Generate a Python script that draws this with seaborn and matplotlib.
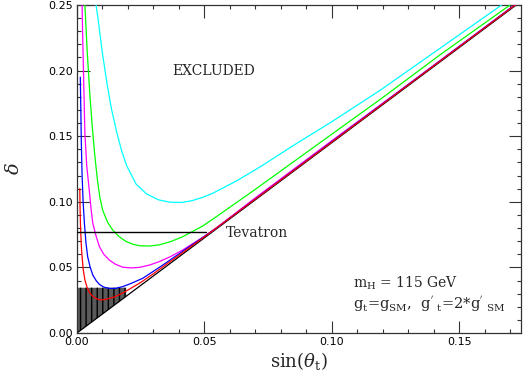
import numpy as np
import matplotlib
matplotlib.use("Agg")
import matplotlib.pyplot as plt
import seaborn as sns

# ---- data ----
diag_x = [0.0, 0.1724]
diag_y = [0.0, 0.25]

cyan_x = [0.0075, 0.0083, 0.0090, 0.0100, 0.0117, 0.0135, 0.0156, 0.0175, 0.0195, 0.0232,
          0.0273, 0.0320, 0.0365, 0.0410, 0.0450, 0.0495, 0.0533, 0.0627, 0.0718, 0.0850,
          0.1000, 0.1190, 0.1425, 0.1667]
cyan_y = [0.250, 0.239, 0.228, 0.213, 0.191, 0.171, 0.153, 0.139, 0.1275, 0.1135,
          0.1060, 0.1015, 0.0997, 0.0995, 0.1008, 0.1035, 0.1065, 0.1160, 0.1265, 0.1430,
          0.1610, 0.1850, 0.2170, 0.2500]

green_x = [0.0031, 0.0040, 0.0050, 0.0060, 0.0070, 0.0080, 0.0090, 0.0101, 0.0120, 0.0140,
           0.0165, 0.0192, 0.0220, 0.0245, 0.0285, 0.0323, 0.0370, 0.0415, 0.0493, 0.0546,
           0.0700, 0.0850, 0.1000, 0.1190, 0.1425, 0.1700]
green_y = [0.250, 0.215, 0.183, 0.157, 0.135, 0.117, 0.103, 0.0935, 0.0845, 0.0785,
           0.0735, 0.0698, 0.0676, 0.0665, 0.0663, 0.0672, 0.0698, 0.0734, 0.0815, 0.0885,
           0.1095, 0.1305, 0.1515, 0.1780, 0.2120, 0.2500]

magenta_x = [0.0020, 0.0022, 0.0025, 0.0028, 0.0031, 0.0038, 0.0048, 0.0055, 0.0062, 0.0075,
             0.0088, 0.0105, 0.0127, 0.0150, 0.0179, 0.0210, 0.0245, 0.0285, 0.0323, 0.0370,
             0.0415, 0.0493, 0.0546, 0.0700, 0.1000, 0.1300, 0.1720]
magenta_y = [0.250, 0.228, 0.203, 0.177, 0.152, 0.128, 0.109, 0.095, 0.0836, 0.0738,
             0.0658, 0.0600, 0.0556, 0.0525, 0.0502, 0.0496, 0.0500, 0.0518, 0.0544, 0.0585,
             0.0633, 0.0728, 0.0800, 0.1030, 0.1465, 0.1895, 0.2503]

blue_x = [0.0013, 0.0015, 0.0017, 0.0020, 0.0024, 0.0029, 0.0035, 0.0042, 0.0052, 0.0062,
          0.0075, 0.0088, 0.0105, 0.0127, 0.0150, 0.0179, 0.0215, 0.0258, 0.0337, 0.0441,
          0.0546, 0.1000, 0.1720]
blue_y = [0.195, 0.170, 0.145, 0.120, 0.100, 0.0838, 0.069, 0.058, 0.050, 0.0442,
          0.040, 0.037, 0.0350, 0.0340, 0.0340, 0.0353, 0.0380, 0.0417, 0.0518, 0.0658,
          0.0798, 0.1458, 0.2502]

red_x = [0.0011, 0.0012, 0.0014, 0.0018, 0.0024, 0.0031, 0.0040, 0.0051, 0.0065, 0.0080,
         0.0090, 0.0110, 0.0143, 0.0170, 0.0195, 0.0250, 0.0300, 0.0404, 0.0546, 0.1000,
         0.1720]
red_y = [0.110, 0.095, 0.080, 0.063, 0.049, 0.0404, 0.0345, 0.0302, 0.0275, 0.0258,
         0.0252, 0.0255, 0.0272, 0.0295, 0.0322, 0.0385, 0.0452, 0.0598, 0.0798, 0.1455,
         0.2500]

tevatron_x = [0.0, 0.0505]
tevatron_y = [0.0772, 0.0772]

hatch_x = [0.0, 0.0193]
hatch_top = 0.0345

# ---- style ----
sns.set_theme(style="ticks")
plt.rcParams["font.family"] = ["DejaVu Sans"]
plt.rcParams["mathtext.fontset"] = "dejavuserif"
plt.rcParams["hatch.linewidth"] = 1.0

fig = plt.figure(figsize=(5.23, 3.76), dpi=100)
ax = fig.add_axes([77 / 523, 1 - 333 / 376, (521 - 77) / 523, (333 - 5) / 376])

# hatched region
h_low = np.interp(hatch_x, diag_x, diag_y)
ax.fill_between(hatch_x, h_low, [hatch_top, hatch_top], facecolor="#5a5a5a",
                edgecolor="black", hatch="|||", linewidth=0, zorder=1)

lw = 0.9
sns.lineplot(x=diag_x, y=diag_y, color="black", lw=lw, ax=ax, zorder=2)
for xs, ys, c in [(cyan_x, cyan_y, "#00ffff"), (green_x, green_y, "#00ff00"),
                  (magenta_x, magenta_y, "#ff00ff"), (blue_x, blue_y, "#0000ff"),
                  (red_x, red_y, "#ff0000")]:
    sns.lineplot(x=xs, y=ys, color=c, lw=lw, ax=ax, sort=False, zorder=3)
sns.lineplot(x=tevatron_x, y=tevatron_y, color="black", lw=1.0, ax=ax, zorder=4)

ax.set_xlim(0, 0.1743)
ax.set_ylim(0, 0.25)
ax.set_xticks([0.0, 0.05, 0.10, 0.15])
ax.set_xticklabels(["0.00", "0.05", "0.10", "0.15"])
ax.set_yticks([0.0, 0.05, 0.10, 0.15, 0.20, 0.25])
ax.set_yticklabels(["0.00", "0.05", "0.10", "0.15", "0.20", "0.25"])
ax.set_xticks(np.arange(0, 0.1745, 0.01), minor=True)
ax.set_yticks(np.arange(0, 0.2505, 0.01), minor=True)
ax.tick_params(which="both", direction="in", top=True, right=True, color="#333333",
               width=0.8, labelsize=8, labelcolor="black")
ax.tick_params(which="major", length=9, pad=3)
ax.tick_params(which="minor", length=3)
for s in ax.spines.values():
    s.set_color("#333333")
    s.set_linewidth(0.9)

ax.set_xlabel(r"$\sin(\theta_{\rm t})$", fontsize=13, labelpad=2)
ax.set_ylabel(r"$\delta$", fontsize=14, labelpad=18)

serif = ["DejaVu Serif"]
ax.text(0.0538, 0.200, "EXCLUDED", family=serif, fontsize=10, ha="center", va="center")
ax.text(0.0584, 0.0765, "Tevatron", family=serif, fontsize=10, ha="left", va="center")
ax.text(0.1084, 0.0381, r"m$_{\rm H}$ = 115 GeV", family=serif, fontsize=10,
        ha="left", va="center")
ax.text(0.1084, 0.0221,
        r"g$_{\rm t}$=g$_{\rm SM}$,  g$^{'}\;{}_{\rm t}$=2*g$^{'}\;{}_{\rm SM}$",
        family=serif, fontsize=10.5, ha="left", va="center")

fig.savefig("out.png", dpi=100)
